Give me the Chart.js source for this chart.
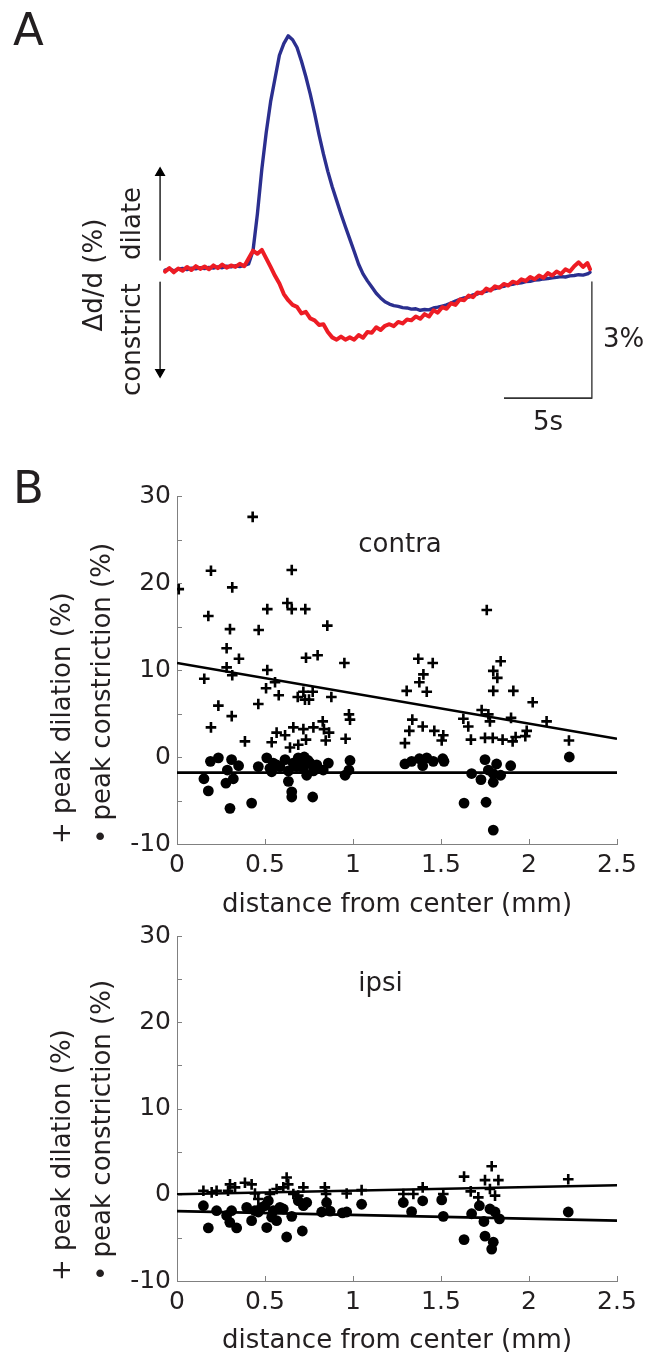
<!DOCTYPE html>
<html><head><meta charset="utf-8">
<script src="https://cdn.jsdelivr.net/npm/chart.js@4.4.1/dist/chart.umd.min.js"></script>
<style>
html,body{margin:0;padding:0;background:#fff;}
body{width:657px;height:1356px;position:relative;overflow:hidden;}
canvas{position:absolute;left:0;}
</style></head><body>
<canvas id="panelA" width="657" height="450" style="top:0px"></canvas>
<canvas id="contra" width="657" height="460" style="top:460px"></canvas>
<canvas id="ipsi" width="657" height="441" style="top:915px"></canvas>
<script>
// ---------- Panel A: diameter traces (time in s, Δd/d in %) ----------
const traceTime = [0,0.25,0.5,0.75,1,1.25,1.5,1.75,2,2.25,2.5,2.75,3,3.25,3.5,3.75,4,4.25,4.5,4.75,
  5,5.25,5.5,5.75,6,6.25,6.5,6.75,7,7.25,7.5,7.75,8,8.25,8.5,8.75,9,9.25,9.5,9.75,
  10,10.25,10.5,10.75,11,11.25,11.5,11.75,12,12.25,12.5,12.75,13,13.25,13.5,13.75,14,14.25,14.5,14.75,
  15,15.25,15.5,15.75,16,16.25,16.5,16.75,17,17.25,17.5,17.75,18,18.25,18.5,18.75,19,19.25,19.5,19.75,
  20,20.25,20.5,20.75,21,21.25,21.5,21.75,22,22.25,22.5,22.75,23,23.25,23.5,23.75,24,24.15];
const dilationTrace = [0.00,0.03,-0.02,0.02,0.04,0.01,0.05,0.03,0.06,0.04,0.07,0.05,0.08,0.06,0.10,0.08,0.11,0.09,0.12,0.16,
  0.5,1.45,2.6,3.55,4.35,4.95,5.55,5.85,6.05,5.95,5.75,5.4,5.0,4.55,4.05,3.5,3.0,2.55,2.15,1.8,
  1.45,1.12,0.8,0.48,0.15,-0.1,-0.28,-0.44,-0.6,-0.72,-0.82,-0.88,-0.92,-0.94,-0.97,-0.98,-1.01,-1.0,-1.04,-1.02,
  -1.03,-0.98,-0.96,-0.93,-0.9,-0.85,-0.8,-0.76,-0.72,-0.7,-0.64,-0.62,-0.57,-0.55,-0.5,-0.48,-0.44,-0.42,-0.38,-0.37,
  -0.34,-0.33,-0.3,-0.29,-0.26,-0.25,-0.23,-0.22,-0.2,-0.19,-0.17,-0.18,-0.15,-0.14,-0.12,-0.13,-0.1,-0.06];
const constrictionTrace = [-0.04,0.05,-0.06,0.04,-0.02,0.08,0.0,0.1,0.03,0.09,0.02,0.12,0.05,0.14,0.06,0.12,0.08,0.16,0.1,0.3,
  0.5,0.42,0.52,0.3,0.08,-0.15,-0.35,-0.62,-0.78,-0.9,-0.95,-1.12,-1.08,-1.25,-1.3,-1.42,-1.4,-1.6,-1.74,-1.8,
  -1.72,-1.8,-1.74,-1.8,-1.68,-1.75,-1.6,-1.62,-1.48,-1.55,-1.44,-1.4,-1.45,-1.34,-1.38,-1.28,-1.3,-1.2,-1.26,-1.14,
  -1.2,-1.04,-1.1,-0.96,-1.0,-0.86,-0.9,-0.76,-0.78,-0.66,-0.7,-0.58,-0.6,-0.48,-0.53,-0.42,-0.46,-0.36,-0.4,-0.3,
  -0.34,-0.24,-0.28,-0.18,-0.24,-0.14,-0.2,-0.08,-0.14,-0.04,-0.1,0.02,-0.04,0.1,0.2,0.08,0.18,0.02];
const scaleBarSeconds = 5;
const scaleBarPercent = 3;
const scaleBarEndTime = 24.26;
const scaleBarTopPct = -0.31;

// ---------- Panel B contra ----------
const contraDilDist = [0.01,0.43,0.193,0.314,0.652,0.178,0.513,0.627,0.652,0.729,0.301,0.464,0.854,0.282,0.352,0.733,0.799,0.951,0.282,0.314,
  0.513,0.155,0.557,0.506,0.578,0.686,0.718,0.727,0.771,0.877,0.235,0.462,0.311,0.977,0.983,0.193,0.566,0.614,0.661,0.718,
  0.775,0.828,0.835,0.864,0.386,0.538,0.642,0.689,0.733,0.845,0.958,0.75,
  1.76,1.371,1.453,1.839,1.40,1.377,1.797,1.82,1.305,1.419,1.797,1.911,2.021,1.731,1.769,1.627,1.778,1.898,2.10,1.337,
  1.655,1.396,1.32,1.462,1.513,1.504,1.295,1.987,1.979,1.67,1.75,1.794,1.85,1.907,1.924,2.227];
const contraDilPeak = [19.3,27.6,21.4,19.5,21.5,16.2,17.0,17.7,17.0,17.0,14.7,14.6,15.1,12.5,11.3,11.4,11.7,10.8,10.3,9.4,
  10.0,9.0,8.6,7.9,7.1,6.9,7.5,6.6,7.5,6.9,5.9,6.1,4.7,4.9,4.3,3.4,2.8,2.5,3.4,3.2,
  3.4,4.1,3.2,2.8,1.8,1.7,1.1,1.4,2.0,1.9,2.1,6.6,
  16.9,11.3,10.8,11.0,9.5,8.6,9.9,9.1,7.6,7.5,7.6,7.6,6.3,5.4,4.9,4.4,4.1,4.5,4.1,4.3,
  3.5,3.5,3.0,3.0,2.5,1.9,1.6,3.0,2.4,2.0,2.2,2.2,2.0,1.8,2.3,1.9];
const contraConDist = [0.19,0.235,0.31,0.35,0.286,0.462,0.51,0.547,0.538,0.614,0.585,0.689,0.723,0.68,0.718,0.737,0.756,0.775,0.831,0.86,
  0.983,0.977,0.955,0.153,0.178,0.278,0.32,0.301,0.424,0.633,0.652,0.652,0.771,0.528,0.633,0.566,0.794,0.70,0.745,0.66,
  1.295,1.333,1.377,1.419,1.396,1.456,1.51,1.517,2.229,1.674,1.75,1.816,1.896,1.769,1.797,1.839,1.727,1.797,1.631,1.756,1.797];
const contraConPeak = [-0.5,-0.1,-0.3,-1.0,-1.5,-1.1,-0.1,-0.7,-1.7,-0.3,-1.1,-0.1,0.0,-1.1,-1.3,-2.1,-0.7,-1.6,-1.5,-0.7,
  -0.4,-1.5,-2.1,-2.5,-3.9,-3.0,-2.5,-5.9,-5.3,-2.8,-4.0,-4.6,-4.6,-1.3,-1.6,-0.9,-0.9,-0.6,-0.4,-0.7,
  -0.8,-0.5,-0.2,-0.1,-1.0,-0.5,-0.2,-0.5,0.0,-1.9,-0.3,-0.8,-1.0,-1.5,-1.9,-2.1,-2.6,-2.9,-5.3,-5.2,-8.4];
const contraDilFit = [10.8, 2.1];   // at distance 0 and 2.5 mm
const contraConFit = [-1.8, -1.8];

// ---------- Panel B ipsi ----------
const ipsiDilDist = [0.15,0.197,0.225,0.301,0.29,0.33,0.386,0.424,0.443,0.462,0.528,0.566,0.604,0.623,0.632,0.661,0.718,0.689,0.84,0.847,
  0.964,1.049,1.286,1.343,1.396,1.513,1.631,1.669,1.712,1.75,1.788,1.826,1.778,1.807,2.223];
const ipsiDilPeak = [0.46,0.27,0.46,1.2,0.46,0.85,1.4,1.2,0.15,-0.5,0.08,0.66,0.85,2.0,1.2,0.08,0.85,-0.1,0.85,0.08,
  0.15,0.54,0.08,0.08,0.85,0.08,2.1,0.39,-0.3,1.7,3.3,1.7,0.66,-0.1,1.8];
const ipsiConDist = [0.15,0.178,0.225,0.282,0.31,0.30,0.339,0.396,0.424,0.462,0.51,0.50,0.538,0.566,0.604,0.623,0.652,0.689,0.718,0.712,
  0.737,0.822,0.85,0.87,0.964,1.049,0.443,0.48,0.519,0.547,0.585,0.94,
  1.286,1.333,1.396,1.504,1.513,1.631,1.674,1.718,1.744,1.75,1.778,1.807,1.832,1.797,1.788,2.223];
const ipsiConPeak = [-1.27,-3.85,-1.85,-2.4,-1.85,-3.2,-3.85,-1.47,-3.0,-2.0,-3.8,-1.27,-2.6,-3.0,-1.65,-4.9,-2.5,-0.7,-1.27,-4.2,
  -0.9,-2.0,-0.9,-1.9,-2.0,-1.1,-1.85,-1.47,-0.7,-1.85,-1.47,-2.1,
  -0.9,-1.96,-0.7,-0.6,-2.5,-5.2,-2.2,-1.27,-3.1,-4.8,-1.65,-2.0,-2.8,-5.5,-6.3,-2.0];
const ipsiDilFit = [0.05, 1.1];
const ipsiConFit = [-1.9, -3.0];

const fitDist = [0, 2.5];
const xTickStep = 0.5, yTickStep = 5;
const yTitleLines = ['+ peak dilation (%)', '\u2022 peak constriction (%)'];
const xTitle = 'distance from center (mm)';

// ---------- helpers ----------
const FONT = "'DejaVu Sans'";
const TXT = '#231f20';
Chart.defaults.font.family = FONT;
const pts = (xs, ys) => xs.map((v, i) => ({x: v, y: ys[i]}));

// Panel A
const panelALabels = {
  id: 'panelALabels',
  afterDraw(chart) {
    const {ctx, scales: {x, y}} = chart;
    ctx.save();
    ctx.fillStyle = TXT;
    ctx.font = '45px ' + FONT;
    ctx.textAlign = 'left'; ctx.textBaseline = 'alphabetic';
    ctx.fillText('A', 13, 45);
    ctx.font = '26px ' + FONT;
    ctx.textBaseline = 'middle';
    ctx.fillText(scaleBarPercent + '%', x.getPixelForValue(scaleBarEndTime) + 11,
      y.getPixelForValue(scaleBarTopPct - scaleBarPercent / 2));
    ctx.textAlign = 'center';
    ctx.fillText(scaleBarSeconds + 's', x.getPixelForValue(scaleBarEndTime - scaleBarSeconds / 2),
      y.getPixelForValue(scaleBarTopPct - scaleBarPercent) + 25);
    const rot = (t, px, py, align) => {
      ctx.save(); ctx.translate(px, py); ctx.rotate(-Math.PI / 2);
      ctx.textAlign = align; ctx.textBaseline = 'middle'; ctx.fillText(t, 0, 0); ctx.restore();
    };
    rot('dilate', x.getPixelForValue(-1.82), y.getPixelForValue(0.26), 'left');
    rot('constrict', x.getPixelForValue(-1.82), y.getPixelForValue(-0.34), 'right');
    rot('\u0394d/d (%)', x.getPixelForValue(-3.98), y.getPixelForValue(-0.13), 'center');
    ctx.restore();
  }
};

const lineDs = (data, color, width, extra) => Object.assign({
  data, borderColor: color, backgroundColor: color, borderWidth: width,
  showLine: true, pointRadius: 0, tension: 0, borderJoinStyle: 'round', borderCapStyle: 'round'
}, extra || {});

new Chart(document.getElementById('panelA'), {
  type: 'scatter',
  data: {
    datasets: [
      lineDs(pts(traceTime, constrictionTrace), '#ed1c24', 4, {order: 0}),
      lineDs(pts(traceTime, dilationTrace), '#2b2f8f', 3.4, {order: 1}),
      lineDs(pts([scaleBarEndTime, scaleBarEndTime], [scaleBarTopPct, scaleBarTopPct - scaleBarPercent]), '#333', 1.6, {order: 2, borderCapStyle: 'butt'}),
      lineDs(pts([scaleBarEndTime - scaleBarSeconds, scaleBarEndTime], [scaleBarTopPct - scaleBarPercent, scaleBarTopPct - scaleBarPercent]), '#333', 1.6, {order: 2, borderCapStyle: 'butt'}),
      lineDs(pts([-0.28, -0.28], [0.26, 2.51]), '#000', 1.3, {order: 3, pointRadius: [0, 5], pointStyle: 'triangle', pointRotation: 0, clip: false}),
      lineDs(pts([-0.28, -0.28], [-0.31, -2.64]), '#000', 1.3, {order: 3, pointRadius: [0, 5], pointStyle: 'triangle', pointRotation: 180, clip: false})
    ]
  },
  options: {
    responsive: false, animation: false, events: [],
    layout: {padding: {left: 85.8, right: 64.3, top: 14.6, bottom: 44.5}},
    plugins: {legend: {display: false}, tooltip: {enabled: false}},
    scales: {
      x: {type: 'linear', display: false, min: -4.5, max: 24.3},
      y: {type: 'linear', display: false, min: -3.5, max: 6.6}
    }
  },
  plugins: [panelALabels]
});

// Panel B
const inwardTicks = {
  id: 'inwardTicks',
  afterDraw(chart) {
    const {ctx, chartArea, scales: {x, y}} = chart;
    ctx.save();
    ctx.strokeStyle = '#808080'; ctx.lineWidth = 1;
    ctx.beginPath();
    y.ticks.forEach(t => {
      const py = Math.round(y.getPixelForValue(t.value)) + 0.5;
      ctx.moveTo(chartArea.left, py); ctx.lineTo(chartArea.left + 5, py);
    });
    x.ticks.forEach(t => {
      const px = Math.round(x.getPixelForValue(t.value)) + 0.5;
      ctx.moveTo(px, chartArea.bottom); ctx.lineTo(px, chartArea.bottom - 5);
    });
    ctx.stroke();
    ctx.restore();
  }
};
const panelText = (title, letter) => ({
  id: 'panelText',
  afterDraw(chart) {
    const {ctx, scales: {x, y}} = chart;
    ctx.save();
    ctx.fillStyle = TXT;
    ctx.textAlign = 'left'; ctx.textBaseline = 'alphabetic';
    ctx.font = '26px ' + FONT;
    ctx.fillText(title, x.getPixelForValue(1.03), y.getPixelForValue(23.6));
    if (letter) { ctx.font = '45px ' + FONT; ctx.fillText(letter, 13, 43); }
    ctx.restore();
  }
});

function makeScatter(id, padTop, xAxisHeight, dilX, dilY, conX, conY, dilFit, conFit, title, letter) {
  new Chart(document.getElementById(id), {
    type: 'scatter',
    data: {
      datasets: [
        lineDs(pts(fitDist, dilFit), '#000', 2.6, {borderCapStyle: 'butt'}),
        lineDs(pts(fitDist, conFit), '#000', 2.6, {borderCapStyle: 'butt'}),
        {data: pts(dilX, dilY), pointStyle: 'cross', pointRadius: 5.3, borderWidth: 2.6, borderColor: '#000', backgroundColor: '#000'},
        {data: pts(conX, conY), pointStyle: 'circle', pointRadius: 5.4, borderWidth: 0, borderColor: '#000', backgroundColor: '#000'}
      ]
    },
    options: {
      responsive: false, animation: false, events: [],
      layout: {padding: {left: 0, right: 40, top: padTop, bottom: 0}},
      plugins: {legend: {display: false}, tooltip: {enabled: false}},
      scales: {
        x: {
          type: 'linear', min: 0, max: 2.5,
          afterFit(s) { s.height = xAxisHeight; },
          ticks: {stepSize: xTickStep, autoSkip: false, maxRotation: 0, padding: 6, color: TXT, font: {size: 25},
            callback: v => String(Math.round(v * 10) / 10)},
          grid: {display: false, drawTicks: false},
          border: {display: true, color: '#808080', width: 1},
          title: {display: true, text: xTitle, color: TXT, font: {size: 26, lineHeight: 1}, padding: {top: 0, bottom: 2}}
        },
        y: {
          type: 'linear', min: -10, max: 30,
          afterFit(s) { s.width = 177; },
          ticks: {stepSize: yTickStep, autoSkip: false, padding: 6, color: TXT, font: {size: 25},
            callback: v => (v % 10 === 0 ? String(v) : '')},
          grid: {display: false, drawTicks: false},
          border: {display: true, color: '#808080', width: 1},
          title: {display: true, text: yTitleLines, align: 'start', color: TXT,
            font: {size: 26, lineHeight: 1.54}, padding: {top: 43, bottom: 0}}
        }
      }
    },
    plugins: [inwardTicks, panelText(title, letter)]
  });
}

makeScatter('contra', 36, 76, contraDilDist, contraDilPeak, contraConDist, contraConPeak, contraDilFit, contraConFit, 'contra', 'B');
makeScatter('ipsi', 20, 75, ipsiDilDist, ipsiDilPeak, ipsiConDist, ipsiConPeak, ipsiDilFit, ipsiConFit, 'ipsi', null);
</script>
</body></html>
